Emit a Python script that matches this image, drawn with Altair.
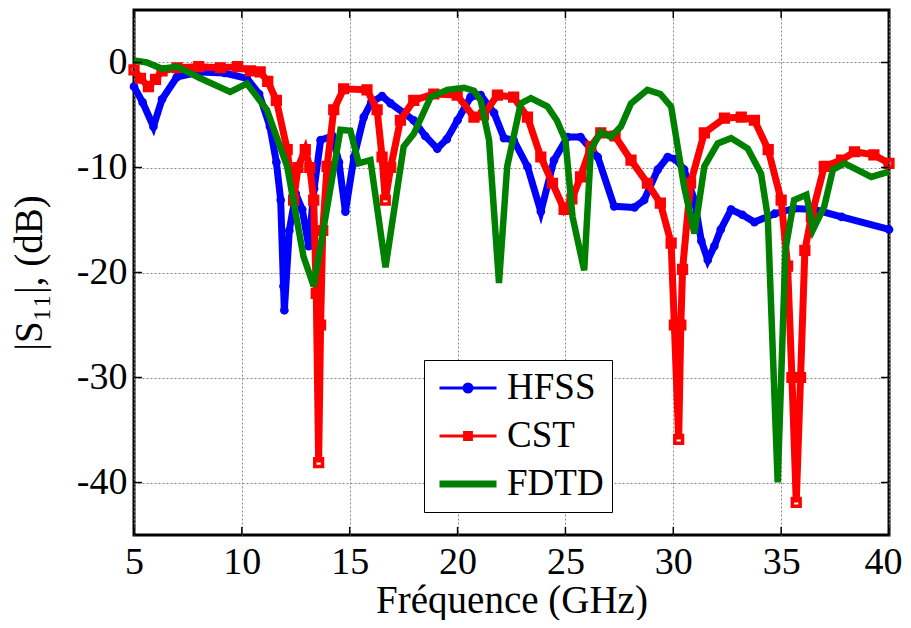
import altair as alt
import pandas as pd

series = ["HFSS", "CST", "FDTD"]
colors = ["#0000ff", "#ff0000", "#008000"]

hfss_f = [5.0, 5.4, 5.9, 6.3, 6.98, 8.07, 9.2, 10.23, 10.8, 11.3, 11.6, 11.8, 11.93, 11.97,
          12.2, 12.5, 12.8, 13.1, 13.35, 13.65, 14.2, 14.5, 14.8, 15.2, 15.65, 16.0, 16.5,
          16.9, 17.5, 17.96, 18.5, 19.06, 19.5, 20.0, 20.6, 21.07, 21.69, 22.15, 22.6, 23.24,
          23.86, 24.47, 25.1, 25.7, 26.5, 27.26, 28.2, 28.65, 29.28, 29.74, 30.1, 30.5, 30.98,
          31.3, 31.6, 31.9, 32.2, 32.68, 33.2, 33.76, 34.7, 35.6, 36.55, 37.8, 40.0]
hfss_db = [-2.3, -3.8, -6.1, -3.5, -1.4, -0.9, -1.0, -1.5, -3.0, -6.1, -9.5, -13.1, -21.3, -23.6,
           -16.0, -12.5, -14.0, -17.5, -12.0, -7.4, -7.0, -9.5, -14.2, -9.0, -5.2, -3.8, -3.2,
           -3.9, -4.8, -5.5, -7.0, -8.2, -7.3, -5.5, -3.3, -3.1, -4.8, -7.2, -7.4, -9.9,
           -14.2, -9.3, -7.1, -7.1, -9.0, -13.7, -13.8, -13.1, -10.2, -9.0, -9.2, -10.2, -13.1,
           -17.0, -18.8, -17.5, -15.9, -14.0, -14.5, -15.2, -14.4, -13.9, -14.0, -14.7, -15.9]

cst_f = [5.0, 5.3, 5.67, 6.0, 6.3, 7.0, 8.0, 9.0, 9.8, 10.4, 10.85, 11.2, 11.6, 12.1, 12.4,
         12.6, 12.94, 13.15, 13.33, 13.45, 13.56, 13.65, 13.75, 13.95, 14.26, 14.72, 15.8,
         16.27, 16.5, 16.65, 16.9, 17.35, 17.97, 18.9, 19.98, 20.76, 21.2, 21.85, 22.6, 23.24,
         23.86, 24.4, 24.94, 25.3, 25.7, 26.18, 26.64, 27.3, 28.04, 28.8, 29.4, 29.9, 30.05,
         30.25, 30.35, 30.43, 30.8, 31.44, 32.37, 33.15, 33.76, 34.4, 35.0, 35.3, 35.5, 35.7,
         35.9, 36.1, 36.4, 37.0, 37.8, 38.4, 39.3, 40.0]
cst_db = [-0.7, -1.5, -2.3, -1.6, -0.8, -0.5, -0.4, -0.5, -0.4, -0.8, -0.9, -1.8, -3.6, -8.3, -13.1,
          -10.0, -8.3, -10.0, -13.1, -22.0, -38.1, -25.0, -16.0, -9.9, -4.5, -2.5, -2.6,
          -4.5, -9.0, -13.1, -10.0, -5.5, -3.6, -3.0, -3.1, -5.2, -5.0, -3.1, -3.3, -5.2,
          -9.0, -11.5, -14.0, -13.0, -10.9, -8.0, -6.7, -7.0, -9.3, -11.5, -13.4, -17.2, -25.0,
          -35.9, -25.0, -19.7, -11.5, -6.7, -5.3, -5.2, -5.5, -8.3, -13.1, -19.4, -30.0, -41.9,
          -30.0, -17.9, -14.7, -9.9, -9.3, -8.5, -8.8, -9.6]

fdtd_f = [5.0, 5.6, 6.3, 7.0, 8.07, 9.46, 10.23, 11.16, 12.1, 12.86, 13.33, 14.57, 15.03, 15.42,
          15.96, 16.66, 17.5, 17.97, 18.75, 19.52, 20.3, 20.76, 21.07, 21.46, 21.92, 22.3, 22.93,
          23.4, 24.17, 24.6, 25.0, 25.33, 25.87, 26.18, 26.64, 27.1, 27.57, 28.04, 28.8, 29.4,
          29.9, 30.05, 30.5, 30.98, 31.44, 32.06, 32.68, 33.45, 34.07, 34.38, 34.84, 35.2, 35.6,
          36.17, 36.48, 37.0, 37.4, 37.94, 39.18, 40.0]
fdtd_db = [0.2, 0.0, -0.6, -0.4, -1.5, -2.8, -2.0, -4.5, -9.9, -18.5, -21.3, -6.4, -6.5, -9.6,
           -9.3, -19.5, -8.0, -6.8, -3.3, -2.6, -2.4, -2.7, -3.6, -7.4, -21.0, -9.9, -3.9,
           -3.4, -4.2, -5.5, -7.4, -14.7, -19.8, -8.3, -6.6, -7.1, -6.1, -3.9, -2.6, -3.0,
           -4.2, -6.1, -11.8, -16.3, -9.9, -7.7, -7.2, -8.2, -10.6, -14.7, -40.0, -17.8, -13.1,
           -12.6, -15.9, -13.7, -10.2, -9.6, -10.9, -10.4]

x_ticks = [5, 10, 15, 20, 25, 30, 35, 40]
y_ticks = [0, -10, -20, -30, -40]

rows = []
for name, fs, ds in [("HFSS", hfss_f, hfss_db), ("CST", cst_f, cst_db), ("FDTD", fdtd_f, fdtd_db)]:
    for i, (f, d) in enumerate(zip(fs, ds)):
        rows.append({"freq": f, "db": d, "series": name, "order": i})
df = pd.DataFrame(rows)

W, H = 755, 525
FONT = "'Times New Roman', 'Liberation Serif', Times, serif"

legend_shapes = [
    "M-1,0H1M0.14,0A0.14,0.14,0,1,1,-0.14,0A0.14,0.14,0,1,1,0.14,0Z",
    "M-1,0H1M-0.12,-0.12H0.12V0.12H-0.12Z",
    "M-1,0H1",
]
legend = alt.Legend(
    title=None, orient="none", legendX=290, legendY=350, direction="vertical",
    fillColor="white", strokeColor="black", padding=8, cornerRadius=0,
    labelFont=FONT, labelFontSize=37, labelColor="black", labelOffset=7,
    symbolSize=3249, clipHeight=40, rowPadding=8, symbolOffset=4, symbolOpacity=1,
)

x = alt.X("freq:Q", scale=alt.Scale(domain=[5, 40], nice=False, zero=False),
          axis=alt.Axis(values=x_ticks, title="Fréquence (GHz)", titleY=77,
                        titleBaseline="alphabetic", labelPadding=8, labelBaseline="top",
                        labelOffset={"condition": {"test": "datum.value === 40", "value": -6}, "value": 0}))
y = alt.Y("db:Q", scale=alt.Scale(domain=[-45, 5], nice=False, zero=False),
          axis=alt.Axis(values=y_ticks, title="|S₁₁|, (dB)", titleX=-93,
                        titleBaseline="alphabetic", labelPadding=7,
                        labelExpr="'' + datum.value"))
cscale = alt.Scale(domain=series, range=colors)
color = alt.Color("series:N", scale=cscale, legend=legend)

base = alt.Chart(df)
hl = base.transform_filter("datum.series === 'HFSS'").mark_line(strokeWidth=7).encode(
    x=x, y=y, color=color, order="order:Q")
hp = base.transform_filter("datum.series === 'HFSS'").mark_point(
    shape="circle", filled=True, size=75, opacity=1).encode(x=x, y=y, color=color)
cl = base.transform_filter("datum.series === 'CST'").mark_line(strokeWidth=7).encode(
    x=x, y=y, color=color, order="order:Q")
cp = base.transform_filter("datum.series === 'CST'").mark_point(
    shape="square", filled=False, size=60, strokeWidth=3.5, opacity=1).encode(x=x, y=y, color=color)
fl = base.transform_filter("datum.series === 'FDTD'").mark_line(strokeWidth=6.5).encode(
    x=x, y=y, color=color, order="order:Q")

# legend-only layer (no rows drawn)
lg = base.transform_filter("false").mark_point(filled=False, opacity=1, size=3249).encode(
    x=x, y=y,
    color=color,
    fill=alt.Fill("series:N", scale=alt.Scale(domain=series, range=colors), legend=legend),
    shape=alt.Shape("series:N", scale=alt.Scale(domain=series, range=legend_shapes), legend=legend),
    strokeWidth=alt.StrokeWidth("series:N", scale=alt.Scale(type="ordinal", domain=series, range=[3, 3, 7]), legend=legend),
)

xt = pd.DataFrame({"freq": x_ticks})
yt = pd.DataFrame({"db": y_ticks})
tb = alt.Chart(xt).mark_rule(color="black", strokeWidth=1.5).encode(
    x=x, y=alt.value(H), y2=alt.value(H - 8))
tt = alt.Chart(xt).mark_rule(color="black", strokeWidth=1.5).encode(
    x=x, y=alt.value(0), y2=alt.value(8))
tl = alt.Chart(yt).mark_rule(color="black", strokeWidth=1.5).encode(
    y=y, x=alt.value(0), x2=alt.value(8))
tr = alt.Chart(yt).mark_rule(color="black", strokeWidth=1.5).encode(
    y=y, x=alt.value(W), x2=alt.value(W - 8))

chart = alt.layer(hl, hp, cl, cp, fl, lg, tb, tt, tl, tr).properties(
    width=W, height=H, autosize="none",
    padding={"left": 126, "top": 2, "right": 14, "bottom": 85},
    background="white",
).configure_view(
    stroke="black", strokeWidth=3
).configure_axis(
    labelFont=FONT, labelFontSize=38, labelColor="black",
    titleFont=FONT, titleFontSize=39, titleFontWeight="normal", titleColor="black",
    ticks=False, tickSize=0, domain=False,
    grid=True, gridColor="#888888", gridDash=[2, 2], gridWidth=1, gridOpacity=1,
    labelFlush=False, labelOverlap=False,
)

chart.save("out.html", embed_options={"renderer": "svg", "actions": False})
